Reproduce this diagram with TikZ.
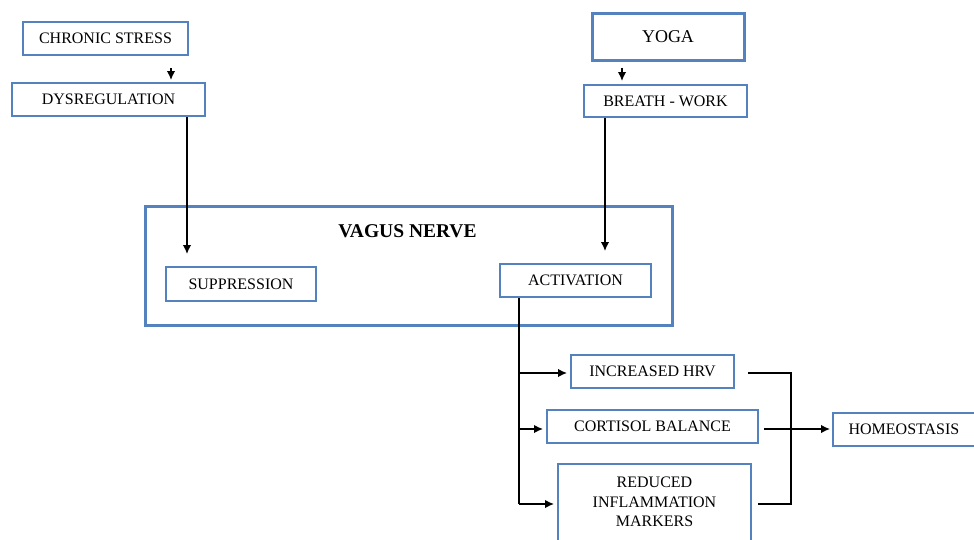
\documentclass[tikz,border=0pt]{standalone}
\usepackage{fontspec}
\setmainfont{Liberation Serif}
\usetikzlibrary{arrows.meta, positioning, calc}
\definecolor{vnBlue}{RGB}{84, 130, 190}
\tikzset{
  Box/.style     = {draw=vnBlue, line width=2pt, minimum height=33pt, inner sep=0pt,
                    anchor=center, align=center, font=\fontsize{16}{19.5}\selectfont},
  BoxThick/.style= {Box, line width=3pt},
  Ttl/.style     = {font=\fontsize{19.5}{22}\selectfont\bfseries},
  Arr/.style     = {line width=1.5pt, -{Latex[length=9pt, width=8.5pt]}},
  Ln/.style      = {line width=1.5pt},
}

\begin{document}
\begin{tikzpicture}[x=1pt, y=-1pt]
\useasboundingbox (0,0) rectangle (974,539);

% ======================= left branch ====================================
\node[Box, minimum width=165pt] (stress) at (105.5, 38.5) {CHRONIC STRESS};
\node[Box, minimum width=193pt] (dysreg) at (108.5, 99.5) {DYSREGULATION};

% ======================= right branch ===================================
\node[BoxThick, minimum width=152pt, minimum height=47pt, font=\fontsize{18}{21}\selectfont]
  (yoga) at (668, 36.5) {YOGA};
\node[Box, minimum width=163pt, minimum height=32pt] (breath) at (665.5, 101) {BREATH - WORK};

% ======================= vagus nerve ====================================
\node[BoxThick, minimum width=527pt, minimum height=119pt] (vagus) at (408.5, 266) {};
\node[Ttl] (vtitle) at (407.5, 231) {VAGUS NERVE};
\node[Box, minimum width=150pt, minimum height=34pt] (suppr) at (241, 284) {SUPPRESSION};
\node[Box, minimum width=151pt] (activ) at (575.5, 280.5) {ACTIVATION};

% ======================= outcomes =======================================
\node[Box, minimum width=163pt] (hrv)    at (652.5, 371.5) {INCREASED HRV};
\node[Box, minimum width=211pt] (cort)   at (652.5, 426.5) {CORTISOL BALANCE};
\node[Box, minimum width=193pt, minimum height=84pt] (reduced) at (654.5, 506) {};
\node[align=center, font=\fontsize{16}{19.5}\selectfont] (redtxt) at (654.5, 502)
  {REDUCED\\ INFLAMMATION\\ MARKERS};
\node[Box, minimum width=142pt] (homeo)  at (904, 429.5) {HOMEOSTASIS};

% ======================= connectors =====================================
\draw[Arr, shorten <=12pt, shorten >=2pt] ([xshift=65.5pt]stress.south) -- ([xshift=65.5pt]stress.south |- dysreg.north);
\draw[Arr, shorten <=6pt,  shorten >=3pt] ([xshift=-46pt]yoga.south) -- ([xshift=-46pt]yoga.south |- breath.north);
\draw[Arr, shorten >=12pt] ([xshift=78.5pt]dysreg.south) -- ([xshift=78.5pt]dysreg.south |- suppr.north);
\draw[Arr, shorten >=12pt] ([xshift=-60.5pt]breath.south) -- ([xshift=-60.5pt]breath.south |- activ.north);

% trunk out of activation
\coordinate (trunk) at ([xshift=-56.5pt]activ.south);
\draw[Ln] (trunk) -- (trunk |- 0,504);
\foreach \t/\y in {hrv/373, cort/429, reduced/504}
  \draw[Arr, shorten >=3pt] (trunk |- 0,\y) -- (\t.west |- 0,\y);

% gather into homeostasis
\coordinate (join) at (791, 0);
\draw[Ln] ([xshift=13pt]hrv.east |- 0,373) -- (join |- 0,373) -- (join |- 0,504) -- ([xshift=6pt]reduced.east |- 0,504);
\draw[Arr, shorten >=2pt] ([xshift=5pt]cort.east |- 0,429) -- (homeo.west |- 0,429);

\end{tikzpicture}
\end{document}
